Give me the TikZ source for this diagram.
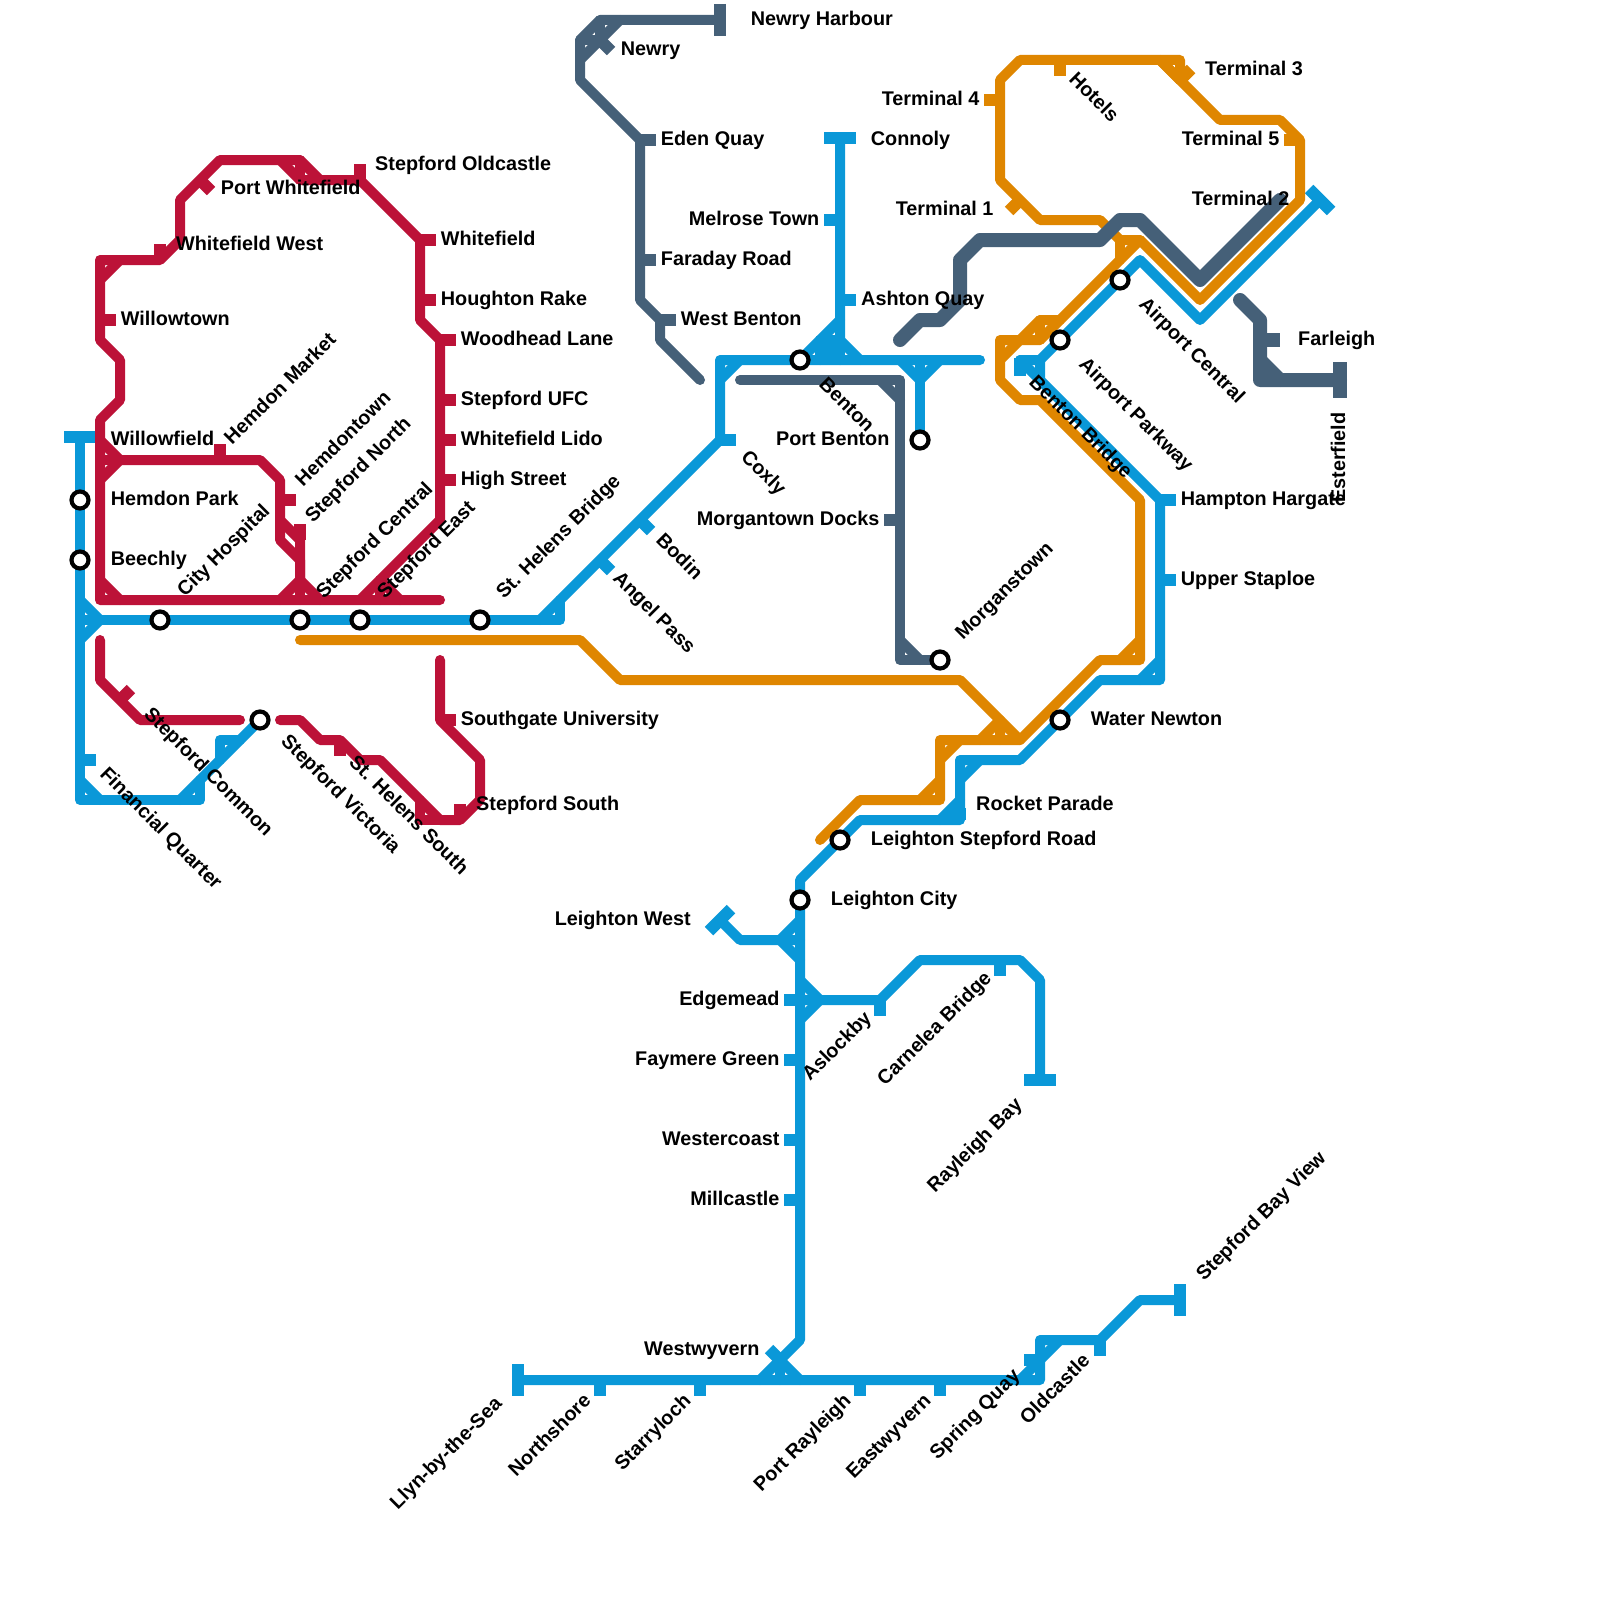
\documentclass[tikz,border=0pt]{standalone}
\usepackage{fontspec}
\setmainfont{Liberation Sans}
\definecolor{cblue}{HTML}{0A98D8}
\definecolor{cred}{HTML}{BC1238}
\definecolor{corange}{HTML}{DF8600}
\definecolor{cdark}{HTML}{456078}
\tikzset{
  route/.style={line width=10pt,line cap=round,line join=round},
  heavy/.style={line width=14pt,line cap=round,line join=round},
  tickbar/.style={line width=12pt,line cap=butt},
  heavybar/.style={line width=14pt,line cap=butt},
  halt/.style={circle,draw=black,fill=white,line width=4.2pt,minimum size=17pt,inner sep=0pt},
  lab/.style={inner sep=0pt,font=\fontsize{19.8}{22}\selectfont\bfseries,text=black},
  lw/.style={lab,anchor=base west},
  le/.style={lab,anchor=base east},
  up/.style={lab,anchor=base west,rotate=45},
  upe/.style={lab,anchor=base east,rotate=45},
  dn/.style={lab,anchor=base west,rotate=-45},
}
\begin{document}
\begin{tikzpicture}[x=1pt,y=-1pt]
\useasboundingbox (0,0) rectangle (1600,1600);
\fill[white] (0,0) rectangle (1600,1600);
% BLUE
\begin{scope}[cblue]
\draw[route] (80,437)--(80,800)--(200,800)--(200,780);
\draw[route] (80,780)--(100,800);
\draw[route] (80,600)--(100,620)--(80,640);
\draw[route] (80,620)--(100,620);
\draw[route] (180,800)--(260,720);
\draw[route] (220,760)--(220,740)--(240,740);
\draw[route] (100,620)--(560,620)--(560,600);
\draw[route] (540,620)--(720,440)--(720,360)--(980,360);
\draw[route] (720,380)--(740,360);
\draw[route] (840,138)--(840,340)--(860,360);
\draw[route] (800,360)--(840,320);
\draw[route] (840,340)--(820,360);
\draw[route] (820,340)--(820,360);
\draw[route] (820,340)--(840,340)--(840,360);
\draw[route] (820,340)--(840,360);
\draw[route] (900,360)--(920,380)--(940,360);
\draw[route] (920,360)--(920,440);
\draw[route] (1320,200)--(1200,320)--(1140,260)--(1040,360)--(1020,360);
\draw[route] (1040,360)--(1040,380)--(1160,500)--(1160,680)--(1100,680)--(1020,760)--(960,760)--(960,820)--(860,820)--(800,880)--(800,1340)--(760,1380);
\draw[route] (1020,360)--(1040,380);
\draw[route] (1140,680)--(1160,660);
\draw[route] (940,820)--(960,800);
\draw[route] (960,780)--(980,760);
\draw[route] (720,920)--(740,940)--(800,940);
\draw[route] (800,920)--(780,940)--(800,960);
\draw[route] (800,980)--(820,1000)--(800,1020);
\draw[route] (800,1000)--(880,1000)--(920,960)--(1020,960)--(1040,980)--(1040,1080);
\draw[route] (518,1380)--(1040,1380)--(1040,1340)--(1100,1340)--(1140,1300)--(1180,1300);
\draw[route] (1020,1380)--(1060,1340);
\draw[route] (780,1360)--(800,1380);
\draw[route] (780,1360)--(780,1380);
% blue ticks
\draw[tickbar] (64,437)--(96,437);
\draw[tickbar] (80,760)--(96,760);
\draw[tickbar] (720,440)--(736,440);
\draw[tickbar] (640,520)--(651,531);
\draw[tickbar] (600,560)--(611,571);
\draw[tickbar] (824,138)--(856,138);
\draw[tickbar] (840,220)--(824,220);
\draw[tickbar] (840,300)--(856,300);
\draw[tickbar] (1309,189)--(1331,211);
\draw[tickbar] (1020,358)--(1020,376);
\draw[tickbar] (1160,500)--(1176,500);
\draw[tickbar] (1160,580)--(1176,580);
\draw[tickbar] (950,814)--(966,814);
\draw[tickbar] (709,931)--(731,909);
\draw[tickbar] (800,1000)--(784,1000);
\draw[tickbar] (800,1060)--(784,1060);
\draw[tickbar] (800,1140)--(784,1140);
\draw[tickbar] (800,1200)--(784,1200);
\draw[tickbar] (880,1000)--(880,1016);
\draw[tickbar] (1000,960)--(1000,976);
\draw[tickbar] (1024,1080)--(1056,1080);
\draw[tickbar] (780,1360)--(769,1349);
\draw[tickbar] (518,1364)--(518,1396);
\draw[tickbar] (600,1380)--(600,1396);
\draw[tickbar] (700,1380)--(700,1396);
\draw[tickbar] (860,1380)--(860,1396);
\draw[tickbar] (940,1380)--(940,1396);
\draw[tickbar] (1040,1360)--(1024,1360);
\draw[tickbar] (1100,1340)--(1100,1356);
\draw[tickbar] (1180,1284)--(1180,1316);
\end{scope}
% RED
\begin{scope}[cred]
\draw[route] (440,600)--(100,600)--(100,420)--(120,400)--(120,360)--(100,340)--(100,260)--(160,260)--(180,240)--(180,200)--(220,160)--(300,160)--(320,180)--(360,180)--(420,240)--(420,320)--(440,340)--(440,520)--(360,600);
\draw[route] (100,280)--(120,260);
\draw[route] (280,160)--(300,180)--(320,180);
\draw[route] (300,160)--(300,180);
\draw[route] (100,440)--(120,460)--(260,460)--(280,480)--(280,540)--(300,560)--(300,580);
\draw[route] (120,460)--(100,480);
\draw[route] (100,460)--(120,460);
\draw[route] (280,520)--(300,540)--(300,580);
\draw[route] (280,600)--(300,580)--(320,600);
\draw[route] (300,580)--(300,600);
\draw[route] (100,580)--(120,600);
\draw[route] (380,580)--(400,600);
\draw[route] (380,580)--(380,600);
\draw[route] (100,640)--(100,680)--(140,720)--(240,720);
\draw[route] (280,720)--(300,720)--(320,740)--(340,740)--(360,760)--(380,760)--(440,820)--(460,820)--(480,800)--(480,760)--(440,720)--(440,660);
\draw[route] (420,800)--(420,820)--(440,820);
\draw[tickbar] (220,460)--(220,444);
\draw[tickbar] (160,260)--(160,244);
\draw[tickbar] (200,180)--(211,191);
\draw[tickbar] (360,180)--(360,164);
\draw[tickbar] (420,240)--(436,240);
\draw[tickbar] (420,300)--(436,300);
\draw[tickbar] (440,340)--(456,340);
\draw[tickbar] (440,400)--(456,400);
\draw[tickbar] (440,440)--(456,440);
\draw[tickbar] (440,480)--(456,480);
\draw[tickbar] (100,320)--(116,320);
\draw[tickbar] (280,500)--(296,500);
\draw[tickbar] (300,540)--(300,524);
\draw[tickbar] (120,700)--(131,689);
\draw[tickbar] (340,740)--(340,756);
\draw[tickbar] (440,720)--(456,720);
\draw[tickbar] (460,820)--(460,804);
\end{scope}
% ORANGE
\begin{scope}[corange]
\draw[route] (300,640)--(580,640)--(620,680)--(960,680)--(1020,740)--(940,740)--(940,800)--(860,800)--(820,840);
\draw[route] (940,760)--(960,740);
\draw[route] (920,800)--(940,780);
\draw[route] (980,740)--(1000,720)--(1000,740);
\draw[route] (1020,740)--(1100,660)--(1140,660)--(1140,500)--(1040,400)--(1020,400)--(1000,380)--(1000,340)--(1040,340)--(1140,240)--(1200,300)--(1300,200)--(1300,140)--(1280,120)--(1220,120)--(1160,60);
\draw[route] (1120,660)--(1140,640);
\draw[route] (1000,360)--(1020,340)--(1040,320)--(1060,320);
\draw[route] (1040,320)--(1040,340);
\draw[route] (1180,80)--(1180,60)--(1020,60)--(1000,80)--(1000,180)--(1040,220)--(1100,220)--(1120,240)--(1140,240);
\draw[route] (1120,240)--(1120,260);
\draw[route] (1160,60)--(1180,80);
\draw[tickbar] (1180,80)--(1191,69);
\draw[tickbar] (1300,140)--(1284,140);
\draw[tickbar] (1000,100)--(984,100);
\draw[tickbar] (1060,60)--(1060,76);
\draw[tickbar] (1020,200)--(1009,211);
\end{scope}
% DARK
\begin{scope}[cdark]
\draw[heavy] (1280,200)--(1200,280)--(1140,220)--(1120,220)--(1100,240)--(980,240)--(960,260)--(960,300)--(940,320)--(920,320)--(900,340);
\draw[heavy] (1240,300)--(1260,320)--(1260,380)--(1340,380);
\draw[heavy] (1260,360)--(1280,380);
\draw[heavybar] (1260,340)--(1280,340);
\draw[heavybar] (1340,362)--(1340,398);
\draw[route] (720,20)--(600,20)--(580,40)--(580,80)--(640,140)--(640,300)--(660,320)--(660,340)--(700,380);
\draw[route] (620,20)--(580,60);
\draw[route] (600,20)--(600,40);
\draw[route] (580,40)--(600,40);
\draw[tickbar] (600,40)--(611,51);
\draw[tickbar] (720,4)--(720,36);
\draw[tickbar] (640,140)--(656,140);
\draw[tickbar] (640,260)--(656,260);
\draw[tickbar] (660,320)--(676,320);
\draw[route] (740,380)--(900,380)--(900,660)--(940,660);
\draw[route] (880,380)--(900,400);
\draw[route] (900,640)--(920,660);
\draw[tickbar] (900,520)--(884,520);
\end{scope}
% interchange stations
\node[halt] (sBeechly) at (80,560) {};
\node[halt] (sHemdonPark) at (80,500) {};
\node[halt] (sCity) at (160,620) {};
\node[halt] (sCentral) at (300,620) {};
\node[halt] (sEast) at (360,620) {};
\node[halt] (sBridge) at (480,620) {};
\node[halt] (sVictoria) at (260,720) {};
\node[halt] (sBenton) at (800,360) {};
\node[halt] (sPortBenton) at (920,440) {};
\node[halt] (sMorganstown) at (940,660) {};
\node[halt] (sParkway) at (1060,340) {};
\node[halt] (sAirport) at (1120,280) {};
\node[halt] (sWater) at (1060,720) {};
\node[halt] (sRoad) at (840,840) {};
\node[halt] (sLeighton) at (800,900) {};
% labels
\node[lw] (t1) at (375,170) {Stepford Oldcastle};
\node[lw] (t2) at (220.7,194.5) {Port Whitefield};
\node[lw] (t3) at (176,250) {Whitefield West};
\node[lw] (t4) at (440.7,245) {Whitefield};
\node[lw] (t5) at (440.7,305) {Houghton Rake};
\node[lw] (t6) at (460.7,345) {Woodhead Lane};
\node[lw] (t7) at (460.7,405) {Stepford UFC};
\node[lw] (t8) at (460.7,445) {Whitefield Lido};
\node[lw] (t9) at (460.7,485) {High Street};
\node[lw] (t10) at (120.7,325) {Willowtown};
\node[lw] (t11) at (110.7,445) {Willowfield};
\node[lw] (t12) at (110.7,505) {Hemdon Park};
\node[lw] (t13) at (110.7,565) {Beechly};
\node[lw] (t14) at (460.7,725) {Southgate University};
\node[lw] (t15) at (476,810) {Stepford South};
\node[lw] (t16) at (750.7,25.5) {Newry Harbour};
\node[lw] (t17) at (620.7,55.5) {Newry};
\node[lw] (t18) at (660.7,145.5) {Eden Quay};
\node[lw] (t19) at (660.7,265.5) {Faraday Road};
\node[lw] (t20) at (680.7,325) {West Benton};
\node[lw] (t21) at (870.7,145.5) {Connoly};
\node[le] (t22) at (819.5,225) {Melrose Town};
\node[lw] (t23) at (861,305) {Ashton Quay};
\node[le] (t24) at (979.6,105.5) {Terminal 4};
\node[le] (t25) at (993.6,215) {Terminal 1};
\node[lw] (t26) at (1205,75.5) {Terminal 3};
\node[le] (t27) at (1279.6,145.5) {Terminal 5};
\node[le] (t28) at (1289.6,205) {Terminal 2};
\node[lw] (t29) at (1298,345) {Farleigh};
\node[le] (t30) at (889.6,445.5) {Port Benton};
\node[le] (t31) at (879.6,525.5) {Morgantown Docks};
\node[lw] (t32) at (1180.7,505.5) {Hampton Hargate};
\node[lw] (t33) at (1180.7,585.5) {Upper Staploe};
\node[lw] (t34) at (1090.7,725.5) {Water Newton};
\node[lw] (t35) at (976,810.5) {Rocket Parade};
\node[lw] (t36) at (870.7,845.5) {Leighton Stepford Road};
\node[lw] (t37) at (830.7,905.5) {Leighton City};
\node[le] (t38) at (691,925.5) {Leighton West};
\node[le] (t39) at (779.6,1005.5) {Edgemead};
\node[le] (t40) at (779.6,1065.5) {Faymere Green};
\node[le] (t41) at (779.6,1145.5) {Westercoast};
\node[le] (t42) at (779.6,1205.5) {Millcastle};
\node[le] (t43) at (759.6,1355.5) {Westwyvern};
\node[up] (t44) at (232,446) {Hemdon Market};
\node[up] (t45) at (303,488) {Hemdontown};
\node[up] (t46) at (313,524) {Stepford North};
\node[up] (t47) at (324,600) {Stepford Central};
\node[up] (t48) at (385,600) {Stepford East};
\node[up] (t49) at (185,598) {City Hospital};
\node[up] (t50) at (504,600) {St. Helens Bridge};
\node[up] (t51) at (963,641) {Morganstown};
\node[up] (t52) at (810,1082) {Aslockby};
\node[up] (t53) at (885,1087) {Carnelea Bridge};
\node[up] (t54) at (935,1194) {Rayleigh Bay};
\node[up] (t55) at (1204,1282) {Stepford Bay View};
\node[upe] (t56) at (503,1405) {Llyn-by-the-Sea};
\node[upe] (t57) at (592,1402) {Northshore};
\node[upe] (t58) at (692,1402) {Starryloch};
\node[upe] (t59) at (852,1402) {Port Rayleigh};
\node[upe] (t60) at (932,1402) {Eastwyvern};
\node[upe] (t61) at (1021,1377) {Spring Quay};
\node[upe] (t62) at (1091,1362) {Oldcastle};
\node[dn] (t63) at (99,775) {Financial Quarter};
\node[dn] (t64) at (143,715) {Stepford Common};
\node[dn] (t65) at (280,742) {Stepford Victoria};
\node[dn] (t66) at (348,763) {St. Helens South};
\node[dn] (t67) at (1068,80) {Hotels};
\node[dn] (t68) at (1138,305) {Airport Central};
\node[dn] (t69) at (1078,365) {Airport Parkway};
\node[dn] (t70) at (1028,383) {Benton Bridge};
\node[dn] (t71) at (818,385) {Benton};
\node[dn] (t72) at (740,458) {Coxly};
\node[dn] (t73) at (655,541) {Bodin};
\node[dn] (t74) at (612,579) {Angel Pass};
\node[lab,anchor=base west,rotate=90] (t75) at (1345,503) {Esterfield};
\end{tikzpicture}
\end{document}
